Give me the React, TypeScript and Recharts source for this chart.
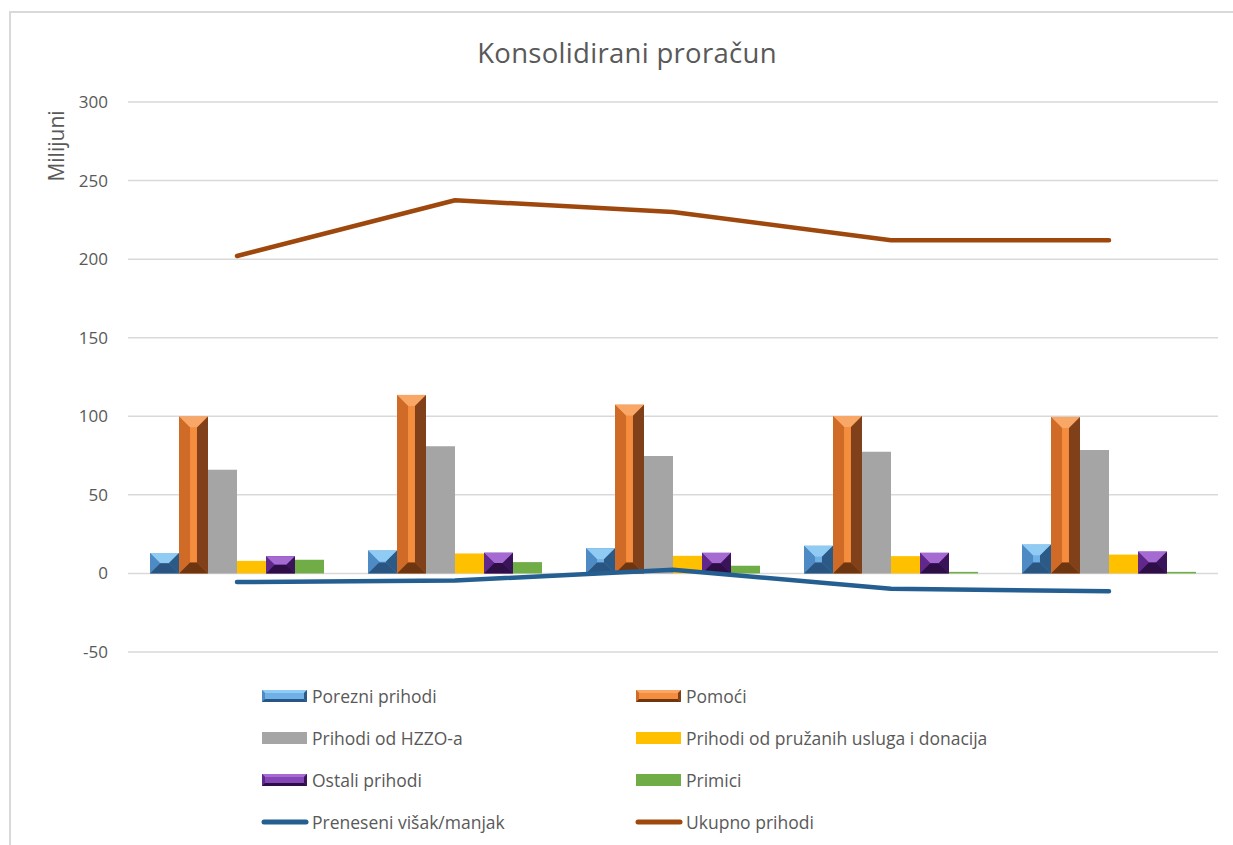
import { Bar, CartesianGrid, ComposedChart, Line, XAxis, YAxis } from 'recharts';

const categories = ['Ostvarenje 2021.', 'Plan 2022.', 'Plan 2023.', 'Projekcija 2024.', 'Projekcija 2025.'];
const porezni = [13, 14.6, 16.1, 17.6, 18.4];
const pomoci = [99.8, 113.6, 107.4, 100.2, 99.6];
const hzzo = [66, 80.9, 74.8, 77.5, 78.6];
const usluge = [8, 12.7, 11.2, 11, 12];
const ostali = [11, 13.2, 13.1, 13.1, 13.9];
const primici = [8.7, 7.2, 4.9, 1, 1];
const preneseni = [-5.5, -4.5, 2.3, -9.8, -11.3];
const ukupno = [202, 237.5, 230, 212, 212];
const yTicks = [-50, 0, 50, 100, 150, 200, 250, 300];

const W = 1233;
const H = 845;
const PLOT_TOP = 102;
const PLOT_BOTTOM = 652;
const Y_MIN = -50;
const Y_MAX = 300;
const zeroY = PLOT_TOP + ((Y_MAX - 0) / (Y_MAX - Y_MIN)) * (PLOT_BOTTOM - PLOT_TOP);

const TEXT = '#595959';
const FONT = '"Open Sans", sans-serif';

type Bevel = { base: string; light: string; mid: string; dark: string; darker: string; hi: string };

const bevels: Record<string, Bevel> = {
  blue: { base: '#5B9BD5', light: '#8FCBF3', mid: '#4E8AC4', dark: '#2C5A86', darker: '#2A5580', hi: '#6FB0E6' },
  orange: { base: '#E2762E', light: '#F9A766', mid: '#D06A27', dark: '#80401A', darker: '#6E3610', hi: '#F58D3F' },
  purple: { base: '#7030A0', light: '#A66BD3', mid: '#61288C', dark: '#3A1458', darker: '#2D0F45', hi: '#8447B5' },
};

type SeriesDef = { key: string; name: string; data: number[]; color: string; bevel?: string; line?: boolean };

const series: SeriesDef[] = [
  { key: 'porezni', name: 'Porezni prihodi', data: porezni, color: '#5B9BD5', bevel: 'blue' },
  { key: 'pomoci', name: 'Pomoći', data: pomoci, color: '#ED7D31', bevel: 'orange' },
  { key: 'hzzo', name: 'Prihodi od HZZO-a', data: hzzo, color: '#A5A5A5' },
  { key: 'usluge', name: 'Prihodi od pružanih usluga i donacija', data: usluge, color: '#FFC000' },
  { key: 'ostali', name: 'Ostali prihodi', data: ostali, color: '#7030A0', bevel: 'purple' },
  { key: 'primici', name: 'Primici', data: primici, color: '#70AD47' },
  { key: 'preneseni', name: 'Preneseni višak/manjak', data: preneseni, color: '#255E91', line: true },
  { key: 'ukupno', name: 'Ukupno prihodi', data: ukupno, color: '#9E480E', line: true },
];

const chartData = categories.map((name, i) => {
  const row: Record<string, string | number> = { name };
  series.forEach((s) => {
    row[s.key] = s.data[i];
  });
  return row;
});

function BevelRect({ x, y, w, h, c, b }: { x: number; y: number; w: number; h: number; c: Bevel; b: number }) {
  return (
    <g>
      <rect x={x} y={y} width={w} height={h} fill={c.base} />
      <rect x={x + b} y={y + b} width={Math.max(0, w - 2 * b)} height={Math.max(0, h - 2 * b)} fill={c.hi} />
      <polygon points={`${x},${y} ${x + w},${y} ${x + w - b},${y + b} ${x + b},${y + b}`} fill={c.light} />
      <polygon points={`${x},${y} ${x + b},${y + b} ${x + b},${y + h - b} ${x},${y + h}`} fill={c.mid} />
      <polygon points={`${x + w},${y} ${x + w},${y + h} ${x + w - b},${y + h - b} ${x + w - b},${y + b}`} fill={c.dark} />
      <polygon points={`${x},${y + h} ${x + b},${y + h - b} ${x + w - b},${y + h - b} ${x + w},${y + h}`} fill={c.darker} />
    </g>
  );
}

const makeBevelShape = (name: string) => (props: any) => {
  const { x, y, width, height } = props;
  if (!height || height <= 0) return <g />;
  const b = Math.min(width * 0.38, height / 2);
  return <BevelRect x={x} y={y} w={width} h={height} c={bevels[name]} b={b} />;
};

const XTick = (props: any) => {
  const { x, payload } = props;
  return (
    <text x={x} y={zeroY + 30} textAnchor="middle" dominantBaseline="central" fill={TEXT} fontSize={17} fontFamily={FONT}>
      {payload.value}
    </text>
  );
};

function LegendIcon({ s }: { s: SeriesDef }) {
  if (s.line) {
    return (
      <svg width={48} height={16} style={{ display: 'block' }}>
        <line x1={3} y1={8} x2={45} y2={8} stroke={s.color} strokeWidth={5} strokeLinecap="round" />
      </svg>
    );
  }
  return (
    <svg width={48} height={16} style={{ display: 'block' }}>
      {s.bevel ? (
        <BevelRect x={1} y={2} w={45} h={12} c={bevels[s.bevel]} b={3} />
      ) : (
        <rect x={1} y={2} width={45} height={12} fill={s.color} />
      )}
    </svg>
  );
}

export default function App() {
  return (
    <div style={{ position: 'absolute', left: 0, top: 0, width: W, height: H, overflow: 'hidden', background: '#fff' }}>
      <div
        style={{
          position: 'absolute',
          left: 9,
          top: 11,
          width: W,
          height: H,
          borderTop: '2px solid #d9d9d9',
          borderLeft: '2px solid #d9d9d9',
        }}
      />
      <div
        style={{
          position: 'absolute',
          left: 327,
          width: 600,
          top: 33,
          textAlign: 'center',
          fontFamily: FONT,
          fontSize: 27.5,
          color: TEXT,
          lineHeight: '40px',
          letterSpacing: 0.3,
        }}
      >
        Konsolidirani proračun
      </div>
      <div style={{ position: 'absolute', left: 0, top: 0 }}>
        <ComposedChart
          width={W}
          height={H}
          data={chartData}
          margin={{ top: PLOT_TOP, right: 15, bottom: H - PLOT_BOTTOM, left: 0 }}
          barCategoryGap={22}
          barGap={0}
        >
          <CartesianGrid vertical={false} stroke="#d9d9d9" strokeWidth={1.5} />
          <XAxis dataKey="name" height={0} axisLine={false} tickLine={false} tick={<XTick />} interval={0} />
          <YAxis
            width={128}
            domain={[Y_MIN, Y_MAX]}
            ticks={yTicks}
            interval={0}
            axisLine={false}
            tickLine={false}
            tickSize={0}
            tickMargin={20}
            tick={{ fill: TEXT, fontSize: 17, fontFamily: FONT }}
            label={{
              value: 'Milijuni',
              position: 'insideTopLeft',
              content: () => (
                <text
                  x={56}
                  y={146}
                  transform="rotate(-90 56 146)"
                  textAnchor="middle"
                  dominantBaseline="central"
                  fill={TEXT}
                  fontSize={21}
                  fontFamily={FONT}
                >
                  Milijuni
                </text>
              ),
            }}
          />
          {series
            .filter((s) => !s.line)
            .map((s) => (
              <Bar
                key={s.key}
                dataKey={s.key}
                name={s.name}
                fill={s.color}
                isAnimationActive={false}
                shape={s.bevel ? makeBevelShape(s.bevel) : undefined}
              />
            ))}
          {series
            .filter((s) => s.line)
            .map((s) => (
              <Line
                key={s.key}
                dataKey={s.key}
                name={s.name}
                type="linear"
                stroke={s.color}
                strokeWidth={4.5}
                strokeLinecap="round"
                strokeLinejoin="round"
                dot={false}
                activeDot={false}
                isAnimationActive={false}
              />
            ))}
        </ComposedChart>
      </div>
      <div
        style={{
          position: 'absolute',
          left: 261,
          top: 675,
          display: 'grid',
          gridTemplateColumns: '374px 500px',
          gridAutoRows: '42px',
          fontFamily: FONT,
          fontSize: 17.5,
          color: TEXT,
        }}
      >
        {series.map((s) => (
          <div key={s.key} style={{ display: 'flex', alignItems: 'center', gap: 3, height: 42 }}>
            <LegendIcon s={s} />
            <span style={{ whiteSpace: 'nowrap' }}>{s.name}</span>
          </div>
        ))}
      </div>
    </div>
  );
}
